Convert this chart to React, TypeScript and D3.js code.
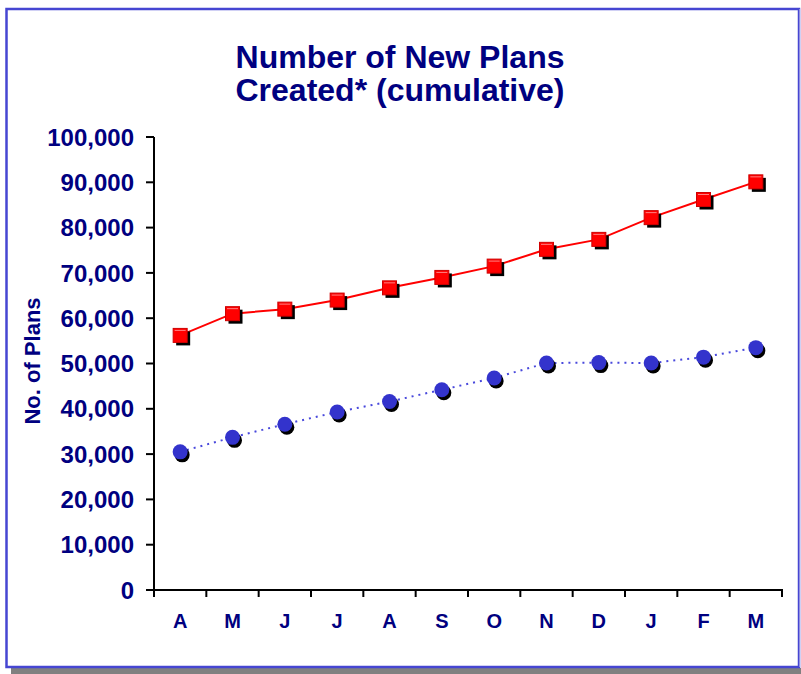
import React from "react";
import * as d3 from "d3";

const months = ["A", "M", "J", "J", "A", "S", "O", "N", "D", "J", "F", "M"];
const plansA = [56200, 61000, 62000, 64000, 66700, 69000, 71500, 75200, 77400, 82200, 86200, 90100];
const plansB = [30500, 33700, 36600, 39300, 41600, 44200, 46800, 50100, 50200, 50100, 51400, 53500];
const yTicks = [0, 10000, 20000, 30000, 40000, 50000, 60000, 70000, 80000, 90000, 100000];
const titleLines = ["Number of New Plans", "Created* (cumulative)"];

const W = 801, H = 674;
const left = 154, right = 782, top = 137, bottom = 590;
const navy = "#000080";
const font = "'Liberation Sans', Arial, sans-serif";

export default function App() {
  const idx = months.map((_, i) => String(i));
  const x = d3.scaleBand<string>().domain(idx).range([left, right]);
  const y = d3.scaleLinear().domain([0, 100000]).range([bottom, top]);
  const cx = (i: number) => (x(String(i)) as number) + x.bandwidth() / 2;
  const line = d3.line<number>().x((_, i) => cx(i)).y((d) => y(d));
  const fmt = d3.format(",");
  const boundaries = d3.range(months.length + 1).map((i) => left + i * x.bandwidth());
  const s = 14;

  return (
    <svg width={W} height={H} style={{ position: "absolute", left: 0, top: 0 }} fontFamily={font}>
      <rect x={0} y={0} width={W} height={H} fill="#fff" />
      {/* shadow */}
      <rect x={11} y={668} width={W - 11} height={6} fill="#808080" />
      {/* frame */}
      <rect x={6.5} y={9} width={792.5} height={658} fill="#fff" stroke="#4646d2" strokeWidth={2.5} />
      <line x1={799.5} y1={9} x2={799.5} y2={667} stroke="#9090e0" strokeWidth={1} />

      {/* title */}
      {titleLines.map((t, i) => (
        <text key={i} x={400} y={68 + i * 33} textAnchor="middle" fontSize={32} fontWeight="bold" fill={navy}>
          {t}
        </text>
      ))}

      {/* y axis */}
      <line x1={left} y1={top} x2={left} y2={bottom} stroke="#000" strokeWidth={2} />
      {yTicks.map((t) => (
        <g key={t}>
          <line x1={146} x2={left} y1={y(t)} y2={y(t)} stroke="#000" strokeWidth={2} />
          <text x={134} y={y(t)} dy="0.36em" textAnchor="end" fontSize={24} fontWeight="bold" fill={navy}>
            {fmt(t)}
          </text>
        </g>
      ))}
      <text
        transform={`translate(40,361) rotate(-90)`}
        textAnchor="middle"
        fontSize={22}
        fontWeight="bold"
        fill={navy}
      >
        No. of Plans
      </text>

      {/* x axis */}
      <line x1={146} x2={right + 1} y1={bottom} y2={bottom} stroke="#000" strokeWidth={2} />
      {boundaries.map((b, i) => (
        <line key={i} x1={b} x2={b} y1={bottom} y2={597} stroke="#000" strokeWidth={2} />
      ))}
      {months.map((m, i) => (
        <text key={i} x={cx(i)} y={628} textAnchor="middle" fontSize={20} fontWeight="bold" fill={navy}>
          {m}
        </text>
      ))}

      {/* blue series */}
      <path d={line(plansB) || ""} fill="none" stroke="#4848dc" strokeWidth={2} strokeDasharray="2,5" />
      {plansB.map((v, i) => (
        <g key={i}>
          <circle cx={cx(i) + 2} cy={y(v) + 3} r={7.5} fill="#000" />
          <circle cx={cx(i)} cy={y(v)} r={7.5} fill="#3333cc" />
        </g>
      ))}

      {/* red series */}
      <path d={line(plansA) || ""} fill="none" stroke="#ff0000" strokeWidth={2} />
      {plansA.map((v, i) => (
        <g key={i}>
          <rect x={cx(i) - s / 2 + 3} y={y(v) - s / 2 + 3} width={s} height={s} fill="#000" />
          <rect x={cx(i) - s / 2} y={y(v) - s / 2} width={s} height={s} fill="#ff0000" stroke="#d00000" strokeWidth={1} />
          <line x1={cx(i) - 5.5} x2={cx(i) + 5.5} y1={y(v) - 5} y2={y(v) - 5} stroke="#ff8080" strokeWidth={1} />
        </g>
      ))}
    </svg>
  );
}
